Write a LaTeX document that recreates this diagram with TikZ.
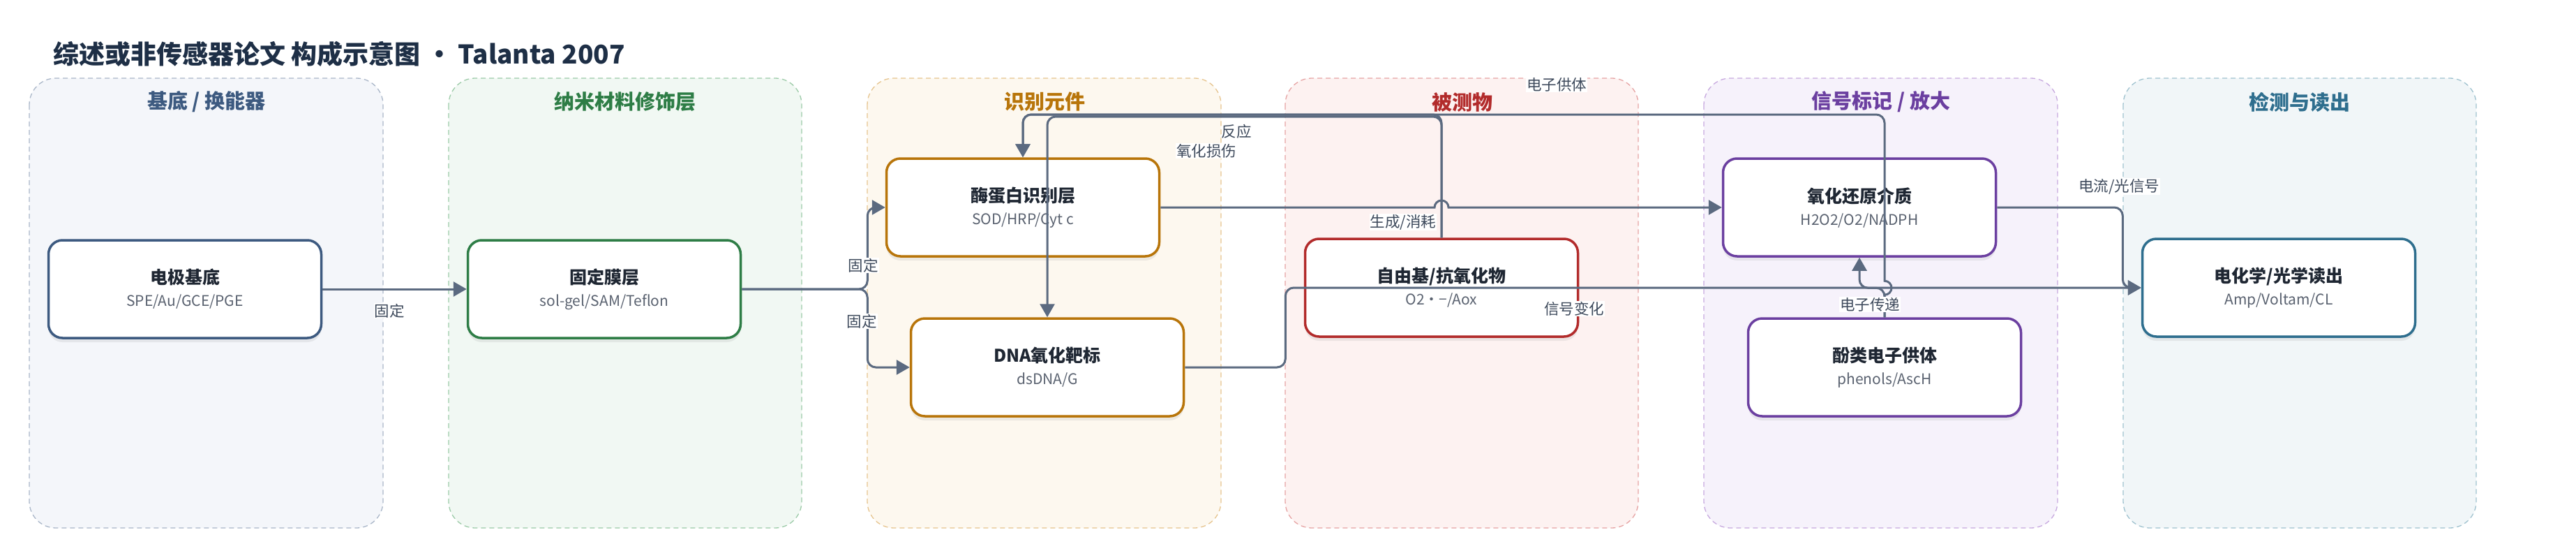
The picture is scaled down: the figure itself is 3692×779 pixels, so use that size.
\documentclass[tikz,border=0pt]{standalone}
\usepackage{fontspec}
\setmainfont{Noto Sans CJK SC}
\usetikzlibrary{arrows.meta,shadows}
\definecolor{flowgray}{HTML}{5B6A80}
\definecolor{taggray}{HTML}{3E4A5C}
\definecolor{inkdark}{HTML}{1F2733}
\definecolor{subgray}{HTML}{5A6270}
\definecolor{titlenavy}{HTML}{1E2F46}
\definecolor{slateink}{HTML}{3D5A80}
\definecolor{slatefill}{HTML}{F4F6FA}
\definecolor{slateedge}{HTML}{A9B6C8}
\definecolor{greenink}{HTML}{2E7D46}
\definecolor{greenfill}{HTML}{F1F8F3}
\definecolor{greenedge}{HTML}{9CCBA8}
\definecolor{amberink}{HTML}{B8750A}
\definecolor{amberfill}{HTML}{FDF8EF}
\definecolor{amberedge}{HTML}{E6C48E}
\definecolor{redink}{HTML}{B22B2B}
\definecolor{redfill}{HTML}{FDF2F1}
\definecolor{rededge}{HTML}{E6A3A3}
\definecolor{violetink}{HTML}{6B3FA0}
\definecolor{violetfill}{HTML}{F6F2FB}
\definecolor{violetedge}{HTML}{C7A9DF}
\definecolor{tealink}{HTML}{2E6E8E}
\definecolor{tealfill}{HTML}{F1F6F8}
\definecolor{tealedge}{HTML}{9FC2CF}
\newcommand\blocksub[1]{{\color{subgray}\fontsize{21}{32}\selectfont\mdseries #1}}

\begin{document}
\begin{tikzpicture}[x=1pt,y=-1pt,
	lane/.style={dashed,dash pattern=on 7pt off 5pt,line width=1.3pt,rounded corners=38pt},
	lanetitle/.style={font=\fontsize{29}{32}\selectfont\bfseries},
	block/.style={draw,line width=3.5pt,fill=white,rounded corners=20pt,
	              minimum width=391pt,minimum height=140pt,align=center,text=inkdark,
	              font=\fontsize{25}{32}\selectfont\bfseries,
	              drop shadow={opacity=0.13,shadow xshift=0pt,shadow yshift=-6pt}},
	flow/.style={draw=flowgray,line width=3pt,rounded corners=12pt,
	             -{Triangle[length=19pt,width=21pt]}},
	tag/.style={fill=white,text=taggray,font=\fontsize{21.5}{24}\selectfont,inner sep=1pt}]
	\useasboundingbox[fill=white] (0,0) rectangle (3692,779);

	\draw[lane,fill=slatefill,draw=slateedge] (42,112) rectangle (549,756);
	\draw[lane,fill=greenfill,draw=greenedge] (643,112) rectangle (1149,756);
	\draw[lane,fill=amberfill,draw=amberedge] (1243,112) rectangle (1750,756);
	\draw[lane,fill=redfill,draw=rededge] (1842,112) rectangle (2348,756);
	\draw[lane,fill=violetfill,draw=violetedge] (2442,112) rectangle (2949,756);
	\draw[lane,fill=tealfill,draw=tealedge] (3043,112) rectangle (3549,756);

	\node[lanetitle,text=slateink] (lanebase) at (296,146) {基底 / 换能器};
	\node[lanetitle,text=greenink] (lanenano) at (896,146) {纳米材料修饰层};
	\node[lanetitle,text=amberink] (lanerecog) at (1497,146) {识别元件};
	\node[lanetitle,text=redink] (laneanalyte) at (2096,146) {被测物};
	\node[lanetitle,text=violetink] (lanelabel) at (2696,146) {信号标记 / 放大};
	\node[lanetitle,text=tealink] (lanereadout) at (3296,146) {检测与读出};

	\begin{scope}[every node/.style={block}]
	    \node[draw=slateink] (base) at (265,414) {电极基底\\\blocksub{SPE/Au/GCE/PGE}};
	    \node[draw=greenink] (film) at (866,414) {固定膜层\\\blocksub{sol-gel/SAM/Teflon}};
	    \node[draw=amberink] (enz) at (1466,297) {酶蛋白识别层\\\blocksub{SOD/HRP/Cyt c}};
	    \node[draw=amberink] (dna) at (1501,526) {DNA氧化靶标\\\blocksub{dsDNA/G}};
	    \node[draw=redink] (rad) at (2066,412) {自由基/抗氧化物\\\blocksub{O2・−/Aox}};
	    \node[draw=violetink] (redox) at (2665,297) {氧化还原介质\\\blocksub{H2O2/O2/NADPH}};
	    \node[draw=violetink] (phen) at (2701,526) {酚类电子供体\\\blocksub{phenols/AscH}};
	    \node[draw=tealink] (read) at (3266,412) {电化学/光学读出\\\blocksub{Amp/Voltam/CL}};
	\end{scope}

	\coordinate (laneA) at (0,164);
	\coordinate (laneB) at (0,167);
	\coordinate (hopA) at (rad.north |- enz.east);

	\draw[flow] (base.east) -- (film.west);
	\draw[flow] (film.east) -- ++(180,0) |- (enz.west);
	\draw[flow] (film.east) -- ++(180,0) |- (dna.west);
	\draw[flow] (rad.north) -- (rad.north |- laneA) -| (enz.north);
	\draw[flow] (rad.north) -- (rad.north |- laneB) -| (dna.north);
	\draw[flow,sharp corners] (enz.east) -- ([xshift=-10pt]hopA) arc[start angle=180,end angle=0,radius=10pt] -- (redox.west);
	\draw[flow] (dna.east) -- ++(144,0) |- (read.west);
	\draw[flow,sharp corners] (phen.north) -- ++(0,-32) arc[start angle=-90,end angle=90,radius=10pt] -- ++(0,-5)
	    [rounded corners=12pt] -- (phen.north |- laneA) -| (enz.north);
	\draw[flow] (phen.north) -- ++(0,-42) -| (redox.south);
	\draw[flow] (redox.east) -- ++(180,0) |- (read.west);

	\node[tag] (tagbase) at (558,445) {固定};
	\node[tag] (tagenz) at (1237,380) {固定};
	\node[tag] (tagdna) at (1235,460) {固定};
	\node[tag,fill=none] (tagreact) at (1772,188) {反应};
	\node[tag] (tagdamage) at (1729,216) {氧化损伤};
	\node[tag] (tagdonor) at (2231,121) {电子供体};
	\node[tag] (tagturn) at (2011,318) {生成/消耗};
	\node[tag] (tagsignal) at (2256,442) {信号变化};
	\node[tag] (tagtransfer) at (2680,436) {电子传递};
	\node[tag] (tagcurrent) at (3037,267) {电流/光信号};

	\node[anchor=west,text=titlenavy,font=\fontsize{37}{40}\selectfont\bfseries,inner sep=0pt] (title) at (76,77)
	    {综述或非传感器论文 构成示意图 · Talanta 2007};
\end{tikzpicture}
\end{document}
